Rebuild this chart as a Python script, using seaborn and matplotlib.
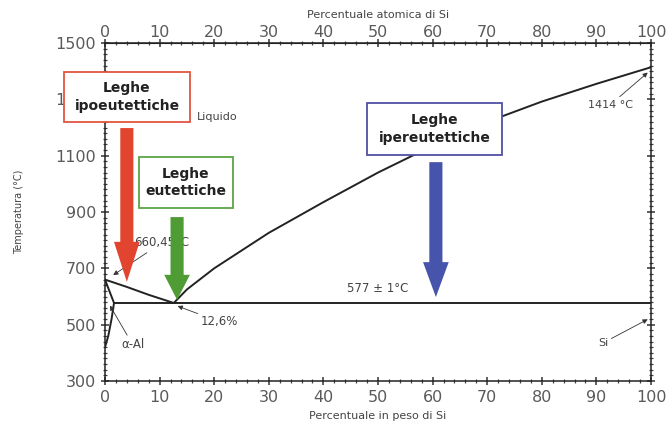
import numpy as np
import pandas as pd
import matplotlib
matplotlib.use("Agg")
import matplotlib.pyplot as plt
import seaborn as sns
from matplotlib.patches import Rectangle, FancyArrow
from matplotlib.ticker import MultipleLocator

sns.set_style("ticks")
plt.rcParams['font.family'] = ['DejaVu Sans']

#%% data (weight % Si, temperature in C)
liq_al_x = [0, 4, 8, 12.6]
liq_al_t = [660, 634, 606, 577]
liq_si_x = [12.6, 15, 20, 30, 40, 50, 60, 70, 80, 90, 100]
liq_si_t = [577, 625, 700, 826, 935, 1040, 1135, 1220, 1292, 1355, 1414]
solidus_x = [0, 1.65]
solidus_t = [660, 577]
solvus_x = [1.65, 1.2, 0.6, 0]
solvus_t = [577, 520, 460, 420]
eut_x = [1.65, 100]
eut_t = [577, 577]

# block arrows: x, tip temperature, top of shaft, head length (C)
arrow_x = [4.0, 13.2, 60.6]
arrow_tip = [652, 588, 598]
arrow_top = [1198, 882, 1077]
arrow_head = [142, 89, 124]
arrow_col = ['#e2452f', '#4f9b34', '#4655ab']

x_ticks = list(range(0, 101, 10))
y_ticks = [300, 500, 700, 900, 1100, 1300, 1500]

#%% figure
W, H = 667, 428
fig = plt.figure(figsize=(W / 100, H / 100), dpi=100)
ax = fig.add_axes([105 / W, 1 - 381 / H, 546 / W, 338 / H])

for xs, ts in [(liq_al_x, liq_al_t), (liq_si_x, liq_si_t), (solidus_x, solidus_t),
               (solvus_x, solvus_t), (eut_x, eut_t)]:
    d = pd.DataFrame({'x': xs, 't': ts})
    sns.lineplot(data=d, x='x', y='t', sort=False, color='#222222', lw=1.4, ax=ax)

ax.set_xlim(0, 100)
ax.set_ylim(300, 1500)
ax.set_xticks(x_ticks)
ax.set_yticks(y_ticks)
ax.xaxis.set_minor_locator(MultipleLocator(2))
ax.yaxis.set_minor_locator(MultipleLocator(20))
ax.tick_params(which='major', direction='inout', length=6, width=1.1, colors='#333333',
               labelcolor='#5a5a5a', labelsize=11.5, top=True, right=True)
ax.tick_params(which='minor', direction='inout', length=3, width=0.9, colors='#444444',
               top=True, right=True)
for s in ax.spines.values():
    s.set_visible(True)
    s.set_color('#222222')
    s.set_linewidth(1.1)
ax.set_xlabel('Percentuale in peso di Si', fontsize=8, color='#444444', labelpad=4)
ax.set_ylabel('Temperatura (°C)', fontsize=7, color='#444444')
ax.yaxis.set_label_coords(-0.148, 0.5)

top = ax.secondary_xaxis('top', functions=(lambda v: v, lambda v: v))
top.set_xticks(x_ticks)
top.tick_params(direction='in', length=0, labelcolor='#5a5a5a', labelsize=11.5, pad=2)
top.set_xlabel('Percentuale atomica di Si', fontsize=8, color='#444444', labelpad=5)

#%% annotations
ap = dict(arrowstyle='-|>', color='#333333', lw=0.6, mutation_scale=7, shrinkA=0, shrinkB=0)
ax.text(20.5, 1237, 'Liquido', fontsize=8, color='#444444', ha='center', va='center')
ax.text(50, 627, '577 ± 1°C', fontsize=8.5, color='#444444', ha='center', va='center')
ax.annotate('1414 °C', xy=(99.4, 1395), xytext=(92.5, 1280), fontsize=8, color='#444444',
            ha='center', va='center', arrowprops=ap)
ax.annotate('Si', xy=(99.4, 519), xytext=(91.2, 435), fontsize=8, color='#444444',
            ha='center', va='center', arrowprops=ap)
ax.annotate('12,6%', xy=(13.3, 566), xytext=(21, 510), fontsize=8.5, color='#444444',
            ha='center', va='center', arrowprops=ap)
ax.annotate('α-Al', xy=(0.9, 568), xytext=(5.1, 428), fontsize=8.5, color='#444444',
            ha='center', va='center', arrowprops=ap)
ax.annotate('660,45°C', xy=(1.5, 676), xytext=(5.3, 790), fontsize=8.5, color='#444444',
            ha='left', va='center', arrowprops=ap)

# thick coloured arrows
for x, tip, topv, hl, c in zip(arrow_x, arrow_tip, arrow_top, arrow_head, arrow_col):
    ax.add_patch(FancyArrow(x, topv, 0, tip - topv, width=2.4, head_width=4.7,
                            head_length=hl, length_includes_head=True,
                            color=c, lw=0, zorder=6, clip_on=False))

# labelled boxes in pixel positions
boxes = [((64, 72, 190, 122), '#e05540', 'Leghe\nipoeutettiche'),
         ((139, 157, 233, 208), '#5aa544', 'Leghe\neutettiche'),
         ((367, 103, 502, 155), '#5050a2', 'Leghe\nipereutettiche')]
for (x0, y0, x1, y1), ec, label in boxes:
    fig.add_artist(Rectangle((x0 / W, 1 - y1 / H), (x1 - x0) / W, (y1 - y0) / H,
                             transform=fig.transFigure, facecolor='white',
                             edgecolor=ec, lw=1.3, zorder=5))
    fig.text((x0 + x1) / 2 / W, 1 - (y0 + y1) / 2 / H, label, ha='center', va='center',
             fontsize=10, fontweight='bold', color='#222222', linespacing=1.3, zorder=6)

fig.savefig('out.png', dpi=100)
